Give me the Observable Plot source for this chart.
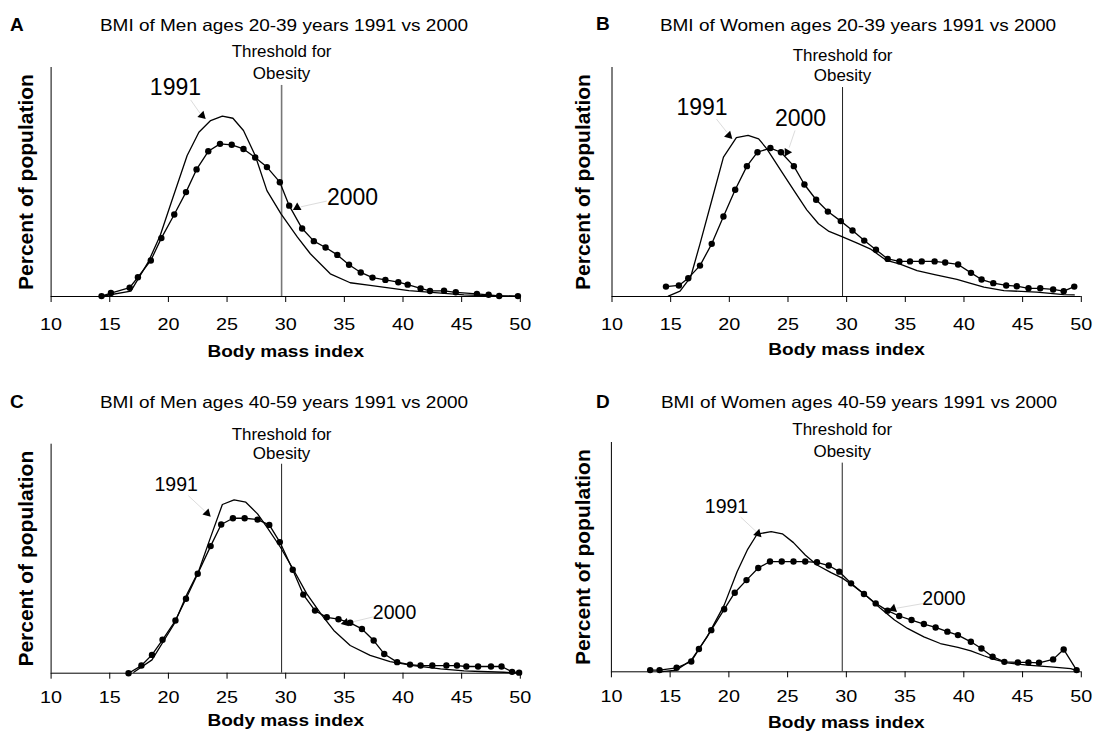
<!DOCTYPE html>
<html>
<head>
<meta charset="utf-8">
<script src="https://cdn.jsdelivr.net/npm/d3@7"></script>
<script src="https://cdn.jsdelivr.net/npm/@observablehq/plot@0.6"></script>
<style>
  html, body { margin: 0; padding: 0; background: #fff; }
  #root { position: relative; width: 1094px; height: 734px; overflow: hidden; background: #fff;
          font-family: "Liberation Sans", Arial, Helvetica, sans-serif; color: #000; }
  .title { position: absolute; white-space: nowrap; font-size: 16.5px; transform: translate(-50%, -50%) scaleX(1.15); }
  .letter { position: absolute; font-weight: bold; font-size: 19px; transform: translate(0, -50%); }
</style>
</head>
<body>
<div id="root"></div>
<script>
// ---------- data ----------
const xTicks = [10, 15, 20, 25, 30, 35, 40, 45, 50];
const panelLetters = ["A", "B", "C", "D"];
const titles = [
  "BMI of Men ages 20-39 years 1991 vs 2000",
  "BMI of Women ages 20-39 years 1991 vs 2000",
  "BMI of Men ages 40-59 years 1991 vs 2000",
  "BMI of Women ages 40-59 years 1991 vs 2000"
];
const yearLabels = ["1991", "2000"];
const thresholdLabel = ["Threshold for", "Obesity"];
const obesityThreshold = 29.65;
const xLabel = "Body mass index";
const yLabel = "Percent of population";

// Panel A: Men 20-39
const bmiA2000 = [14.3,15.1,16.7,17.4,18.5,19.4,20.5,21.5,22.4,23.4,24.4,25.4,26.4,27.4,28.4,29.5,30.3,31.4,32.4,33.4,34.4,35.4,36.4,37.4,38.5,39.6,40.4,41.5,42.3,43.5,44.5,46.3,47.3,48.2,49.8];
const pctA2000 = [0.02,0.18,0.46,1.01,1.89,3.06,4.30,5.47,6.66,7.61,8.00,7.95,7.73,7.28,6.78,5.99,4.76,3.56,2.90,2.57,2.18,1.66,1.26,0.99,0.87,0.75,0.62,0.42,0.29,0.30,0.22,0.14,0.09,0.03,0.02];
const bmiA1991 = [14.2,16.8,18.3,19.3,20.3,21.6,22.6,23.6,24.6,25.5,26.4,27.4,28.4,29.6,31.0,32.1,33.8,35.5,37.2,40.5,45.2,49.9];
const pctA1991 = [0,0.28,1.83,3.20,5.03,7.39,8.61,9.22,9.45,9.34,8.70,7.39,5.55,4.33,3.11,2.24,1.19,0.72,0.58,0.31,0.08,0];

// Panel B: Women 20-39
const bmiB2000 = [14.6,15.7,16.5,17.5,18.5,19.5,20.5,21.5,22.4,23.5,24.4,25.5,26.4,27.4,28.4,29.5,30.5,31.5,32.5,33.5,34.5,35.4,36.4,37.5,38.4,39.5,40.6,41.5,42.5,43.6,44.5,45.5,46.5,47.6,48.5,49.4];
const pctB2000 = [0.52,0.58,0.96,1.62,2.76,4.19,5.59,6.83,7.56,7.78,7.56,6.83,5.87,5.07,4.45,3.95,3.46,2.93,2.45,1.97,1.84,1.84,1.84,1.84,1.78,1.68,1.24,0.89,0.70,0.58,0.54,0.43,0.43,0.37,0.28,0.52];
const bmiB1991 = [14.8,15.8,16.7,17.5,18.5,19.5,20.6,21.6,22.5,23.2,24.4,25.5,26.6,27.6,28.5,29.6,30.9,32.0,33.4,34.5,36.0,37.5,39.4,40.5,41.7,43.4,46.2,48.5,49.4];
const pctB1991 = [0.02,0.28,1.01,2.76,5.03,7.30,8.32,8.44,8.26,7.74,6.60,5.56,4.54,3.81,3.41,3.14,2.80,2.50,1.89,1.71,1.36,1.15,0.90,0.70,0.49,0.31,0.23,0.10,0.08];

// Panel C: Men 40-59
const bmiC2000 = [16.6,17.7,18.6,19.5,20.6,21.5,22.5,23.6,24.5,25.5,26.5,27.6,28.6,29.5,30.6,31.5,32.5,33.5,34.5,35.5,36.5,37.5,38.4,39.5,40.6,41.5,42.5,43.7,44.6,45.4,46.4,47.5,48.4,49.3,49.9];
const pctC2000 = [0,0.40,0.96,1.75,2.76,3.90,5.21,6.66,7.79,8.12,8.12,8.05,7.77,6.87,5.42,4.12,3.28,2.93,2.83,2.64,2.32,1.71,1.01,0.58,0.45,0.40,0.40,0.40,0.40,0.35,0.35,0.35,0.35,0.07,0.03];
const bmiC1991 = [17.05,18.6,20.5,21.6,22.6,23.6,24.6,25.6,26.6,27.6,28.4,29.55,30.7,31.8,33.0,34.1,35.5,37.2,38.9,40.9,43.2,45.2,46.6,48.6,49.9];
const pctC1991 = [0.05,0.70,2.59,4.16,5.38,7.13,8.84,9.08,8.96,8.35,7.65,6.60,5.38,4.16,3.11,2.24,1.45,0.93,0.61,0.40,0.23,0.12,0.09,0.05,0];

// Panel D: Women 40-59
const bmiD2000 = [13.3,14.1,15.55,16.8,17.45,18.5,19.6,20.5,21.5,22.5,23.5,24.5,25.5,26.5,27.5,28.5,29.4,30.4,31.5,32.5,33.5,34.5,35.55,36.6,37.6,38.6,39.5,40.6,41.5,42.45,43.45,44.6,45.5,46.4,47.6,48.5,49.6];
const pctD2000 = [0.09,0.09,0.21,0.54,1.19,2.18,3.27,4.14,4.80,5.43,5.77,5.77,5.77,5.77,5.73,5.56,5.24,4.63,4.07,3.58,3.20,2.92,2.71,2.50,2.32,2.10,1.92,1.57,1.22,0.79,0.52,0.49,0.49,0.47,0.65,1.17,0.09];
const bmiD1991 = [14.1,15.55,16.8,18.15,19.6,20.7,21.6,22.4,23.6,24.55,25.5,26.5,27.5,28.7,29.7,30.7,31.8,32.9,34.1,35.2,36.6,38.0,39.5,40.6,41.7,42.6,43.7,45.4,47.4,49.1,49.7];
const pctD1991 = [0,0.09,0.61,1.83,3.49,5.24,6.41,7.20,7.34,7.22,6.76,6.11,5.59,5.19,4.89,4.45,3.93,3.32,2.71,2.27,1.83,1.48,1.28,1.10,0.84,0.65,0.47,0.35,0.26,0.17,0.05];

// ---------- layout (positions & styles) ----------
const panels = [
  { b2000: bmiA2000, p2000: pctA2000, b1991: bmiA1991, p1991: pctA1991,
    left: 0, top: 35, h: 332, ml: 50.6, mr: 27.2, mt: 32, mb: 71, tp: 16, xdy: 55, ydx: -24.6,
    titleX: 284, titleY: 25, letterX: 10, letterY: 25,
    thrTop: 11.06, thrY: [12.84, 11.69], thrStroke: "#777", thrW: 1.6,
    labFont: 23, lab: [[20.6, 10.95], [35.7, 5.19]],
    arrows: [[22.88, 9.48, 135], [30.98, 4.66, 240]],
    links: [[21.9, 10.3, 22.7, 9.6], [33.5, 5.0, 31.3, 4.7]] },
  { b2000: bmiB2000, p2000: pctB2000, b1991: bmiB1991, p1991: pctB1991,
    left: 547, top: 35, h: 332, ml: 64.5, mr: 13.2, mt: 32, mb: 71, tp: 16, xdy: 53, ydx: -28.9,
    titleX: 858, titleY: 25, letterX: 596, letterY: 24,
    thrTop: 10.95, thrY: [12.63, 11.54], thrStroke: "#222", thrW: 1,
    labFont: 23, lab: [[17.67, 9.92], [26.07, 9.31]],
    arrows: [[19.96, 8.44, 135], [24.93, 7.56, 90]],
    links: [[18.9, 9.3, 19.8, 8.6], [25.6, 8.7, 25.1, 7.8]] },
  { b2000: bmiC2000, p2000: pctC2000, b1991: bmiC1991, p1991: pctC1991,
    left: 0, top: 412, h: 322, ml: 50.6, mr: 27.2, mt: 31.7, mb: 61.3, tp: 12, xdy: 47.5, ydx: -25.1,
    titleX: 284, titleY: 402, letterX: 10, letterY: 402,
    thrTop: 10.95, thrY: [12.48, 11.48], thrStroke: "#222", thrW: 1,
    labFont: 19.5, lab: [[20.66, 9.87], [39.28, 3.18]],
    arrows: [[23.31, 8.38, 135], [35.1, 2.64, 255]],
    links: [[21.7, 9.3, 23.1, 8.5], [37.8, 3.0, 35.5, 2.66]] },
  { b2000: bmiD2000, p2000: pctD2000, b1991: bmiD1991, p1991: pctD1991,
    left: 547, top: 412, h: 322, ml: 63.9, mr: 13.2, mt: 30, mb: 62.7, tp: 12, xdy: 51, ydx: -28.3,
    titleX: 859, titleY: 402, letterX: 596, letterY: 402,
    thrTop: 10.92, thrY: [12.67, 11.49], thrStroke: "#222", thrW: 1,
    labFont: 19.5, lab: [[19.8, 8.66], [38.31, 3.8]],
    arrows: [[22.48, 7.23, 135], [33.99, 3.3, 250]],
    links: [[21.0, 8.1, 22.3, 7.35], [36.8, 3.6, 34.3, 3.33]] }
];

const root = document.getElementById("root");
const FONT = '"Liberation Sans", Arial, Helvetica, sans-serif';
const tickStrings = new Set(xTicks.map(String));

panels.forEach((p, i) => {
  const d2000 = p.b2000.map((x, k) => ({x, y: p.p2000[k]}));
  const d1991 = p.b1991.map((x, k) => ({x, y: p.p1991[k]}));
  const labels = yearLabels.map((t, k) => ({t, x: p.lab[k][0], y: p.lab[k][1]}));
  const arrows = p.arrows.map(a => ({x: a[0], y: a[1], r: a[2]}));
  const links = p.links.map(l => ({x1: l[0], y1: l[1], x2: l[2], y2: l[3]}));
  const thr = thresholdLabel.map((t, k) => ({t, x: obesityThreshold, y: p.thrY[k]}));

  const svg = Plot.plot({
    width: 547, height: p.h,
    marginLeft: p.ml, marginRight: p.mr, marginTop: p.mt, marginBottom: p.mb,
    style: { fontFamily: FONT, fontSize: "16.5px", color: "#000", background: "transparent", overflow: "visible" },
    x: { domain: [10, 50], ticks: xTicks, tickSize: 6, tickPadding: p.tp, label: null, tickFormat: d => String(d) },
    y: { domain: [0, 12], axis: null },
    marks: [
      Plot.ruleY([0], { x1: 10, x2: 50, stroke: "#000", strokeWidth: 1 }),
      Plot.ruleX([10], { y1: 0, y2: 12, stroke: "#000", strokeWidth: 1 }),
      Plot.ruleX([obesityThreshold], { y1: 0, y2: p.thrTop, stroke: p.thrStroke, strokeWidth: p.thrW }),
      Plot.link(links, { x1: "x1", y1: "y1", x2: "x2", y2: "y2", stroke: "#dcdcdc", strokeWidth: 1 }),
      Plot.line(d1991, { x: "x", y: "y", stroke: "#000", strokeWidth: 1.3 }),
      Plot.line(d2000, { x: "x", y: "y", stroke: "#000", strokeWidth: 1.3 }),
      Plot.dot(d2000, { x: "x", y: "y", r: 3.2, fill: "#000", stroke: null }),
      Plot.dot(arrows, { x: "x", y: "y", rotate: "r", symbol: "triangle", r: 3.2, fill: "#000", stroke: null }),
      Plot.text(thr, { x: "x", y: "y", text: "t", fontSize: 16, lineAnchor: "middle", textAnchor: "middle", fill: "#000" }),
      Plot.text(labels, { x: "x", y: "y", text: "t", fontSize: p.labFont, lineAnchor: "middle", textAnchor: "middle", fill: "#000" }),
      Plot.text([xLabel], { frameAnchor: "bottom", dy: p.xdy, fontSize: 16, fontWeight: "bold", lineAnchor: "middle", fill: "#000" }),
      Plot.text([yLabel], { frameAnchor: "left", dx: p.ydx, rotate: -90, fontSize: 21, fontWeight: "bold", lineAnchor: "middle", textAnchor: "middle", fill: "#000" })
    ]
  });
  svg.style.position = "absolute";
  svg.style.left = p.left + "px";
  svg.style.top = p.top + "px";
  root.appendChild(svg);

  // horizontally stretched text, as in the reference
  svg.querySelectorAll("text").forEach(t => {
    const s = t.textContent;
    let k = null;
    if (tickStrings.has(s)) k = 1.2;
    else if (s === xLabel) k = 1.19;
    else if (thresholdLabel.includes(s)) k = 1.06;
    if (k == null) return;
    let tr = t.getAttribute("transform") || "";
    const xa = t.getAttribute("x");
    if (xa != null && !/em$/.test(xa) && !isNaN(parseFloat(xa)) && parseFloat(xa) !== 0) {
      tr += ` translate(${parseFloat(xa)},0)`;
      t.setAttribute("x", 0);
    }
    t.setAttribute("transform", (tr + ` scale(${k},1)`).trim());
  });

  const title = document.createElement("div");
  title.className = "title";
  title.textContent = titles[i];
  title.style.left = p.titleX + "px";
  title.style.top = p.titleY + "px";
  root.appendChild(title);

  const letter = document.createElement("div");
  letter.className = "letter";
  letter.textContent = panelLetters[i];
  letter.style.left = p.letterX + "px";
  letter.style.top = p.letterY + "px";
  root.appendChild(letter);
});
</script>
</body>
</html>
